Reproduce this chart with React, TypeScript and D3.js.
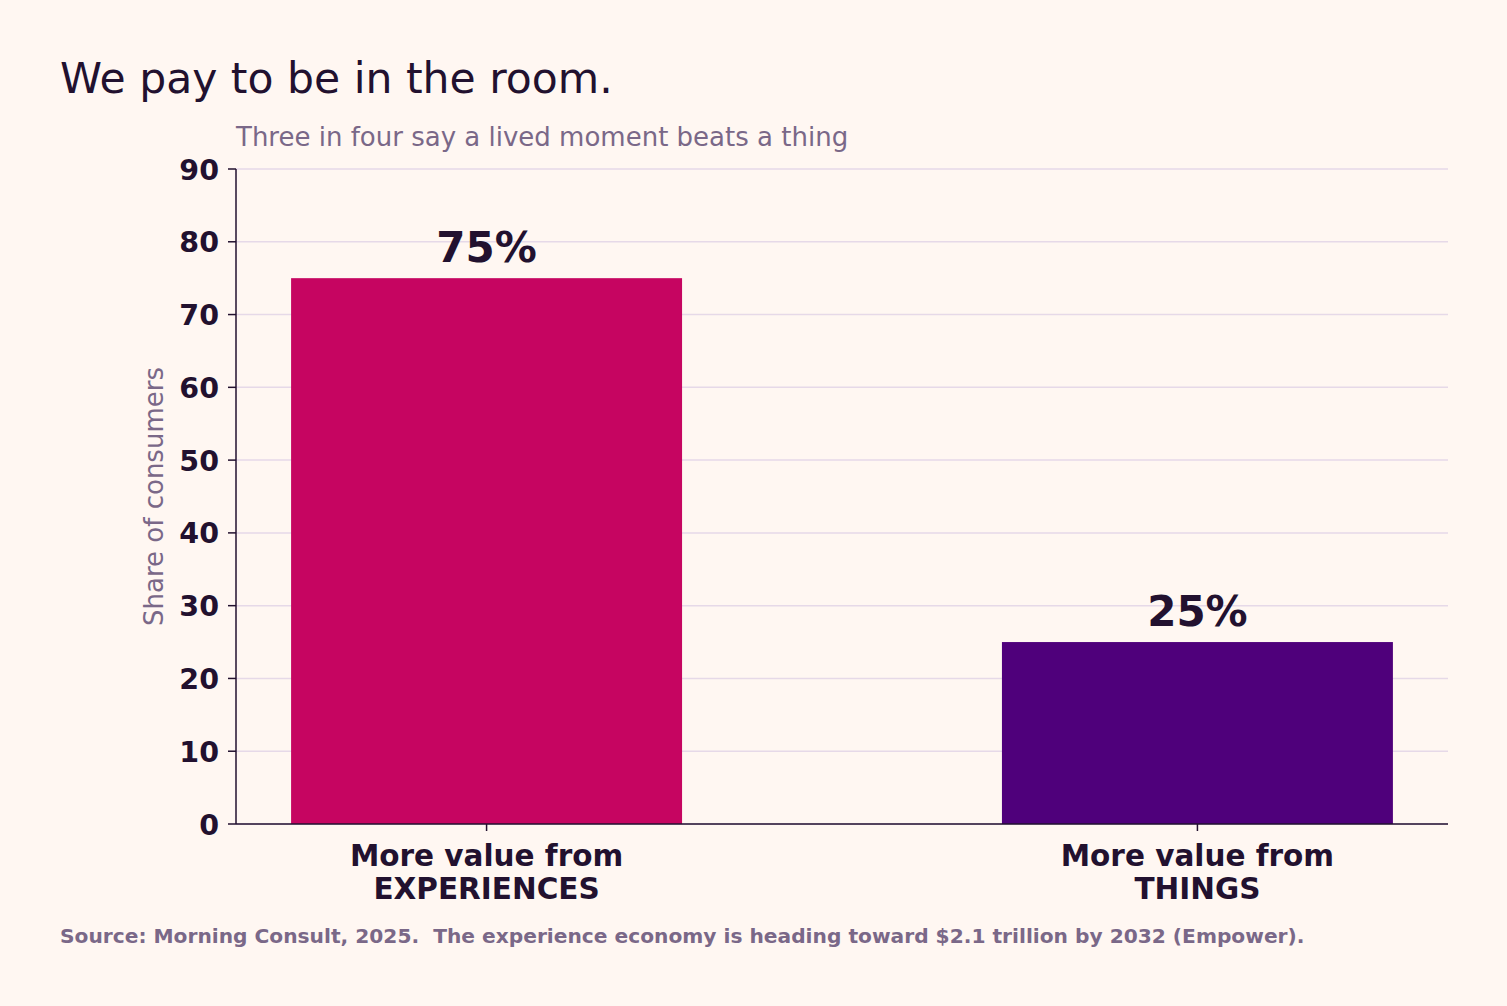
import * as d3 from 'd3'

const categories = ['More value from\nEXPERIENCES', 'More value from\nTHINGS']
const shares = [75, 25]
const valueLabels = ['75%', '25%']
const barColors = ['#C60561', '#4F007B']
const yTicks = [0, 10, 20, 30, 40, 50, 60, 70, 80, 90]

const ink = '#22112F'
const muted = '#7A6888'
const grid = '#E6D9E8'
const bg = '#FFF7F2'
const font = '"DejaVu Sans", sans-serif'

export default function App() {
  const width = 1507
  const height = 1006
  const left = 236
  const right = 1448
  const top = 169
  const bottom = 824
  const barWidth = 0.55

  const x = d3
    .scaleLinear()
    .domain([-barWidth / 2 - 0.0775, categories.length - 1 + barWidth / 2 + 0.0775])
    .range([left, right])
  const y = d3.scaleLinear().domain([0, 90]).range([bottom, top])
  const bw = x(barWidth) - x(0)

  return (
    <svg
      width={width}
      height={height}
      style={{ position: 'absolute', left: 0, top: 0, background: bg }}
      fontFamily={font}
    >
      <rect width={width} height={height} fill={bg} />
      <text x={60} y={93} fontSize={42.5} fill={ink}>
        We pay to be in the room.
      </text>
      <text x={236} y={146} fontSize={26} fill={muted}>
        Three in four say a lived moment beats a thing
      </text>

      {yTicks.map((t) => (
        <g key={t}>
          <line x1={left} x2={right} y1={y(t)} y2={y(t)} stroke={grid} strokeWidth={1.5} />
          <line x1={left - 8} x2={left} y1={y(t)} y2={y(t)} stroke={ink} strokeWidth={1.5} />
          <text
            x={219}
            y={y(t) + 10.5}
            textAnchor="end"
            fontSize={28.5}
            fontWeight="bold"
            fill={ink}
          >
            {t}
          </text>
        </g>
      ))}

      {shares.map((v, i) => (
        <g key={i}>
          <rect x={x(i) - bw / 2} y={y(v)} width={bw} height={y(0) - y(v)} fill={barColors[i]} />
          <text
            x={x(i)}
            y={y(v) - 16}
            textAnchor="middle"
            fontSize={42}
            fontWeight="bold"
            fill={ink}
          >
            {valueLabels[i]}
          </text>
          <line x1={x(i)} x2={x(i)} y1={bottom} y2={bottom + 7} stroke={ink} strokeWidth={1.5} />
          {categories[i].split('\n').map((line, j) => (
            <text
              key={j}
              x={x(i)}
              y={866 + j * 33}
              textAnchor="middle"
              fontSize={29.5}
              fontWeight="bold"
              fill={ink}
            >
              {line}
            </text>
          ))}
        </g>
      ))}

      <line x1={left} x2={left} y1={top} y2={bottom} stroke={ink} strokeWidth={1.5} />
      <line x1={left} x2={right} y1={bottom} y2={bottom} stroke={ink} strokeWidth={1.5} />

      <text
        transform={`translate(163,${(top + bottom) / 2}) rotate(-90)`}
        textAnchor="middle"
        fontSize={26}
        fill={muted}
      >
        Share of consumers
      </text>

      <text x={60} y={943} fontSize={20.2} fontWeight="bold" fill={muted}>
        Source: Morning Consult, 2025.{'\u00a0 '}The experience economy is heading toward $2.1 trillion by 2032 (Empower).
      </text>
    </svg>
  )
}
